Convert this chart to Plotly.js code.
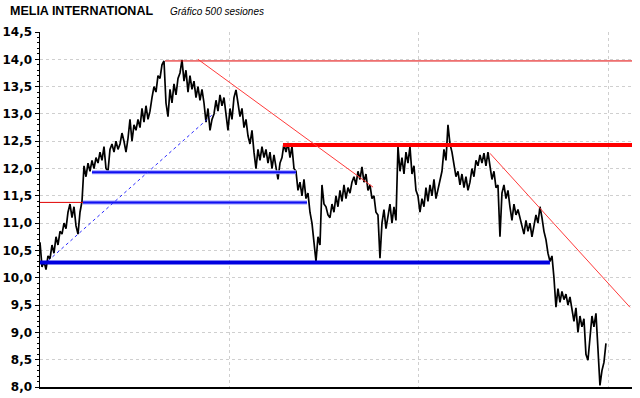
<!DOCTYPE html>
<html>
<head>
<meta charset="utf-8">
<script src="https://cdn.plot.ly/plotly-3.0.1.min.js"></script>
<style>html,body{margin:0;padding:0;background:#fff;}#chart{width:640px;height:398px;}</style>
</head>
<body>
<div id="chart"></div>
<script>
// Closing prices (one value every ~1.7 sessions)
const prices = [
  10.65,10.2,10.3,10.15,10.4,
  10.35,10.6,10.45,10.75,10.6,
  10.85,10.8,11.0,10.9,11.2,
  11.35,11.1,11.3,10.95,10.8,
  11.2,11.4,12.05,11.85,12.1,
  11.95,12.15,12.0,12.2,12.1,
  12.3,12.15,12.4,12.0,11.95,
  12.35,12.45,12.3,12.5,12.35,
  12.45,12.65,12.5,12.3,12.55,
  12.9,12.5,12.8,12.7,12.9,
  12.75,13.1,12.85,13.15,12.9,
  13.05,13.3,13.5,13.4,13.7,
  13.65,13.9,13.97,13.2,12.95,
  13.45,13.2,13.55,13.35,13.65,
  13.75,13.99,13.6,13.8,13.4,
  13.7,13.45,13.6,13.3,13.5,
  13.25,13.45,13.2,12.85,13.1,
  12.7,12.9,13.0,13.25,13.05,
  13.35,13.15,13.3,12.95,12.7,
  13.1,12.9,13.3,13.44,13.2,
  12.95,13.1,12.75,12.9,12.6,
  12.45,12.7,12.3,12.0,12.35,
  12.15,12.4,12.2,12.35,12.1,
  12.3,12.0,12.25,12.05,11.8,
  12.1,12.2,12.45,12.3,12.47,
  12.2,12.4,12.0,11.95,11.6,
  11.75,11.5,11.8,11.45,11.55,
  11.2,11.0,10.6,10.3,10.75,
  10.6,11.7,11.35,11.3,11.15,
  11.1,11.35,11.2,11.5,11.3,
  11.6,11.4,11.7,11.45,11.65,
  11.55,11.75,11.85,11.7,11.95,
  11.8,12.03,11.75,11.9,11.6,
  11.7,11.45,11.5,11.2,11.15,
  10.36,11.0,11.25,10.9,11.1,
  11.35,11.0,11.3,11.05,12.4,
  11.95,12.2,11.9,12.3,12.1,
  12.4,11.9,12.05,11.6,11.5,
  11.2,11.45,11.3,11.65,11.4,
  11.7,11.5,11.8,11.45,11.6,
  11.8,11.95,12.35,12.15,12.8,
  12.45,12.3,12.1,11.85,11.95,
  11.7,11.9,11.65,11.85,11.6,
  11.75,12.0,11.85,12.15,12.05,
  12.25,12.1,12.28,12.05,12.3,
  12.05,11.8,11.95,11.65,11.7,
  10.75,11.55,11.7,11.45,11.6,
  11.3,11.05,11.35,11.15,11.25,
  11.1,10.95,10.8,11.05,10.85,
  11.0,10.75,10.95,11.15,11.0,
  11.3,11.1,10.85,10.7,10.45,
  10.3,10.4,10.0,9.46,9.8,
  9.55,9.75,9.6,9.7,9.5,
  9.65,9.4,9.2,9.45,9.0,
  9.3,9.1,9.25,8.6,8.49,
  8.9,9.3,9.1,9.35,8.7,
  8.03,8.3,8.45,8.8
];
const lastSession = 478;
const sessions = prices.map((_, i) => i * lastSession / (prices.length - 1));

// Horizontal support/resistance levels: [price, fromSession, toSession]
const redLevels   = [[13.97, 105.6, 500], [11.38, 0, 36.3]];
const redThick    = [[12.43, 205.2, 500]];
const blueLevels  = [[11.38, 36.3, 225.5], [11.93, 43.9, 216.2]];
const blueThick   = [[10.28, 0, 430.7]];
// Trend lines: [session0, price0, session1, price1]
const redTrends   = [[133.4, 14.0, 281.3, 11.66], [380, 12.28, 498.3, 9.46]];
const blueTrends  = [[6.8, 10.31, 145.3, 12.98]];

const yTicks = [8, 8.5, 9, 9.5, 10, 10.5, 11, 11.5, 12, 12.5, 13, 13.5, 14, 14.5];
const xGrid = [160, 320, 480];

const shapes = [];
function hline(l, color, width, dash) {
  shapes.push({type:'line', xref:'x', yref:'y', x0:l[1], x1:l[2], y0:l[0], y1:l[0],
    line:{color:color, width:width, dash:dash||'solid'}});
}
function tline(t, color, width, dash) {
  shapes.push({type:'line', xref:'x', yref:'y', x0:t[0], y0:t[1], x1:t[2], y1:t[3],
    line:{color:color, width:width, dash:dash||'solid'}});
}
redLevels.forEach(l => hline(l, '#e00000', 1));
blueLevels.forEach(l => { hline(l, '#9a9aff', 4); hline(l, '#1010f0', 2); });
blueThick.forEach(l => hline(l, '#0000e0', 4));
redThick.forEach(l => hline(l, '#ff0000', 4));
redTrends.forEach(t => tline(t, '#ff3a3a', 1));
blueTrends.forEach(t => tline(t, '#2a2aff', 1, 'dot'));

const trace = {
  x: sessions, y: prices, type:'scatter', mode:'lines',
  line:{color:'#000000', width:1.7}, hoverinfo:'skip'
};

const layout = {
  width:640, height:398,
  margin:{l:40, r:8, t:32, b:11, pad:0},
  paper_bgcolor:'#ffffff', plot_bgcolor:'#ffffff',
  showlegend:false,
  separators:',.',
  xaxis:{range:[0,500], showgrid:true, gridcolor:'#cfcfcf', griddash:'dot', gridwidth:1,
    tickvals:xGrid, showticklabels:false, ticks:'', zeroline:false,
    showline:true, linecolor:'#000', linewidth:2, fixedrange:true},
  yaxis:{range:[8,14.5], tickvals:yTicks, tickformat:'.1f', showgrid:true,
    gridcolor:'#cfcfcf', griddash:'dot', gridwidth:1, zeroline:false,
    showline:true, linecolor:'#000', linewidth:1.5,
    ticks:'outside', ticklen:4, tickcolor:'#000', tickwidth:1,
    tickfont:{family:'DejaVu Sans', size:12, color:'#000', weight:'bold'},
    minor:{dtick:0.1, ticks:'outside', ticklen:2, tickcolor:'#000', showgrid:false},
    fixedrange:true},
  shapes: shapes,
  annotations:[
    {xref:'paper', yref:'paper', x:-32/592, y:1+21/355, xanchor:'left', yanchor:'middle',
     text:'<b>MELIA INTERNATIONAL</b>', showarrow:false,
     font:{family:'Liberation Sans', size:12.5, color:'#000'}},
    {xref:'paper', yref:'paper', x:(168-40)/592, y:1+21/355, xanchor:'left', yanchor:'middle',
     text:'<i>Gráfico 500 sesiones</i>', showarrow:false,
     font:{family:'Liberation Sans', size:10, color:'#000'}}
  ]
};

Plotly.newPlot('chart', [trace], layout, {staticPlot:true, displayModeBar:false});
</script>
</body>
</html>
